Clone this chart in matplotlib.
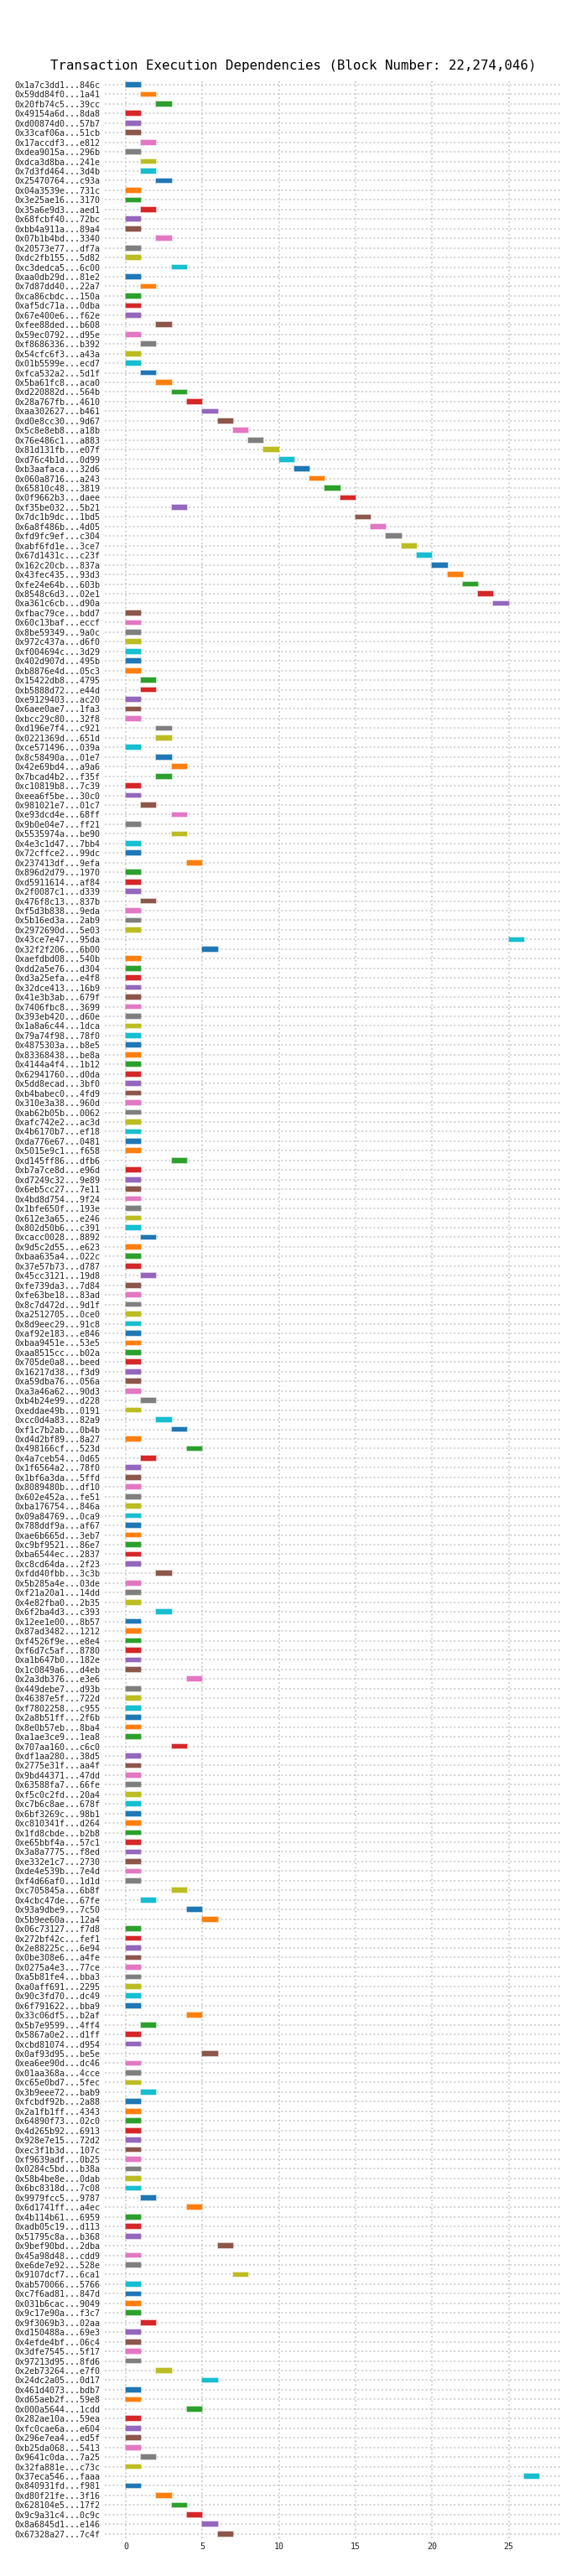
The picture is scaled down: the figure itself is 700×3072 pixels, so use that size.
import matplotlib
matplotlib.use("Agg")
import matplotlib.pyplot as plt

# transaction hash labels, top to bottom
tx_labels = [
    "0x1a7c3dd1...846c", "0x59dd84f0...1a41", "0x20fb74c5...39cc", "0x49154a6d...8da8",
    "0xd00874d0...57b7", "0x33caf06a...51cb", "0x17accdf3...e812", "0xdea9015a...296b",
    "0xdca3d8ba...241e", "0x7d3fd464...3d4b", "0x25470764...c93a", "0x04a3539e...731c",
    "0x3e25ae16...3170", "0x35a6e9d3...aed1", "0x68fcbf40...72bc", "0xbb4a911a...89a4",
    "0x07b1b4bd...3340", "0x20573e77...df7a", "0xdc2fb155...5d82", "0xc3dedca5...6c00",
    "0xaa0db29d...81e2", "0x7d87dd40...22a7", "0xca86cbdc...150a", "0xaf5dc71a...0dba",
    "0x67e400e6...f62e", "0xfee88ded...b608", "0x59ec0792...d95e", "0xf8686336...b392",
    "0x54cfc6f3...a43a", "0x01b5599e...ecd7", "0xfca532a2...5d1f", "0x5ba61fc8...aca0",
    "0xd220882d...564b", "0x28a767fb...4610", "0xaa302627...b461", "0xd0e8cc30...9d67",
    "0x5c8e8eb8...a18b", "0x76e486c1...a883", "0x81d131fb...e07f", "0xd76c4b1d...0d99",
    "0xb3aafaca...32d6", "0x060a8716...a243", "0x65810c48...3819", "0x0f9662b3...daee",
    "0xf35be032...5b21", "0x7dc1b9dc...1bd5", "0x6a8f486b...4d05", "0xfd9fc9ef...c304",
    "0xabf6fd1e...3ce7", "0x67d1431c...c23f", "0x162c20cb...837a", "0x43fec435...93d3",
    "0xfe24e64b...603b", "0x8548c6d3...02e1", "0xa361c6cb...d90a", "0xfbac79ce...bdd7",
    "0x60c13baf...eccf", "0x8be59349...9a0c", "0x972c437a...d6f0", "0xf004694c...3d29",
    "0x402d907d...495b", "0xb8876e4d...05c3", "0x15422db8...4795", "0xb5888d72...e44d",
    "0xe9129403...ac20", "0x6aee0ae7...1fa3", "0xbcc29c80...32f8", "0xd196e7f4...c921",
    "0x0221369d...651d", "0xce571496...039a", "0x8c58490a...01e7", "0x42e69bd4...a9a6",
    "0x7bcad4b2...f35f", "0xc10819b8...7c39", "0xeea6f5be...30c0", "0x981021e7...01c7",
    "0xe93dcd4e...68ff", "0x9b0e04e7...ff21", "0x5535974a...be90", "0x4e3c1d47...7bb4",
    "0x72cffce2...99dc", "0x237413df...9efa", "0x896d2d79...1970", "0xd5911614...af84",
    "0x2f0087c1...d339", "0x476f8c13...837b", "0xf5d3b838...9eda", "0x5b16ed3a...2ab9",
    "0x2972690d...5e03", "0x43ce7e47...95da", "0x32f2f206...6b00", "0xaefdbd08...540b",
    "0xdd2a5e76...d304", "0xd3a25efa...e4f8", "0x32dce413...16b9", "0x41e3b3ab...679f",
    "0x7406fbc8...3699", "0x393eb420...d60e", "0x1a8a6c44...1dca", "0x79a74f98...78f0",
    "0x4875303a...b8e5", "0x83368438...be8a", "0x4144a4f4...1b12", "0x62941760...d0da",
    "0x5dd8ecad...3bf0", "0xb4babec0...4fd9", "0x310e3a38...960d", "0xab62b05b...0062",
    "0xafc742e2...ac3d", "0x4b6170b7...ef18", "0xda776e67...0481", "0x5015e9c1...f658",
    "0xd145ff86...dfb6", "0xb7a7ce8d...e96d", "0xd7249c32...9e89", "0x6eb5cc27...7e11",
    "0x4bd8d754...9f24", "0x1bfe650f...193e", "0x612e3a65...e246", "0x802d50b6...c391",
    "0xcacc0028...8892", "0x9d5c2d55...e623", "0xbaa635a4...022c", "0x37e57b73...d787",
    "0x45cc3121...19d8", "0xfe739da3...7d84", "0xfe63be18...83ad", "0x8c7d472d...9d1f",
    "0xa2512705...0ce0", "0x8d9eec29...91c8", "0xaf92e183...e846", "0xbaa9451e...53e5",
    "0xaa8515cc...b02a", "0x705de0a8...beed", "0x16217d38...f3d9", "0xa59dba76...056a",
    "0xa3a46a62...90d3", "0xb4b24e99...d228", "0xeddae49b...0191", "0xcc0d4a83...82a9",
    "0xf1c7b2ab...0b4b", "0xd4d2bf89...8a27", "0x498166cf...523d", "0x4a7ceb54...0d65",
    "0x1f6564a2...78f0", "0x1bf6a3da...5ffd", "0x8089480b...df10", "0x602e452a...fe51",
    "0xba176754...846a", "0x09a84769...0ca9", "0x788ddf9a...af67", "0xae6b665d...3eb7",
    "0xc9bf9521...86e7", "0xba6544ec...2837", "0xc8cd64da...2f23", "0xfdd40fbb...3c3b",
    "0x5b285a4e...03de", "0xf21a20a1...14dd", "0x4e82fba0...2b35", "0x6f2ba4d3...c393",
    "0x12ee1e00...8b57", "0x87ad3482...1212", "0xf4526f9e...e8e4", "0xf6d7c5af...8780",
    "0xa1b647b0...182e", "0x1c0849a6...d4eb", "0x2a3db376...e3e6", "0x449debe7...d93b",
    "0x46387e5f...722d", "0xf7802258...c955", "0x2a8b51ff...2f6b", "0x8e0b57eb...8ba4",
    "0xa1ae3ce9...1ea8", "0x707aa160...c6c0", "0xdf1aa280...38d5", "0x2775e31f...aa4f",
    "0x9bd44371...47dd", "0x63588fa7...66fe", "0xf5c0c2fd...20a4", "0xc7b6c8ae...678f",
    "0x6bf3269c...98b1", "0xc810341f...d264", "0x1fd8cbde...b2b8", "0xe65bbf4a...57c1",
    "0x3a8a7775...f8ed", "0xe332e1c7...2730", "0xde4e539b...7e4d", "0xf4d66af0...1d1d",
    "0xc705845a...6b8f", "0x4cbc47de...67fe", "0x93a9dbe9...7c50", "0x5b9ee60a...12a4",
    "0x06c73127...f7d8", "0x272bf42c...fef1", "0x2e88225c...6e94", "0x0be308e6...a4fe",
    "0x0275a4e3...77ce", "0xa5b81fe4...bba3", "0xa0aff691...2295", "0x90c3fd70...dc49",
    "0x6f791622...bba9", "0x33c06df5...b2af", "0x5b7e9599...4ff4", "0x5867a0e2...d1ff",
    "0xcbd81074...d954", "0x0af93d95...be5e", "0xea6ee90d...dc46", "0x01aa368a...4cce",
    "0xc65e0bd7...5fec", "0x3b9eee72...bab9", "0xfcbdf92b...2a88", "0x2a1fb1ff...4343",
    "0x64890f73...02c0", "0x4d265b92...6913", "0x928e7e15...72d2", "0xec3f1b3d...107c",
    "0xf9639adf...0b25", "0x0284c5bd...b38a", "0x58b4be8e...0dab", "0x6bc8318d...7c08",
    "0x9979fcc5...9787", "0x6d1741ff...a4ec", "0x4b114b61...6959", "0xadb05c19...d113",
    "0x51795c8a...b368", "0x9bef90bd...2dba", "0x45a98d48...cdd9", "0xe6de7e92...528e",
    "0x9107dcf7...6ca1", "0xab570066...5766", "0xc7f6ad81...847d", "0x031b6cac...9049",
    "0x9c17e90a...f3c7", "0x9f3069b3...02aa", "0xd150488a...69e3", "0x4efde4bf...06c4",
    "0x3dfe7545...5f17", "0x97213d95...8fd6", "0x2eb73264...e7f0", "0x24dc2a05...0d17",
    "0x461d4073...bdb7", "0xd65aeb2f...59e8", "0x000a5644...1cdd", "0x282ae10a...59ea",
    "0xfc0cae6a...e604", "0x296e7ea4...ed5f", "0xb25da068...5413", "0x9641c0da...7a25",
    "0x32fa881e...c73c", "0x37eca546...faaa", "0x840931fd...f981", "0xd80f21fe...3f16",
    "0x628104e5...17f2", "0x9c9a31c4...0c9c", "0x8a6845d1...e146", "0x67328a27...7c4f",
]

# execution step at which each transaction starts
start_steps = [
    0, 1, 2, 0, 0, 0, 1, 0, 1, 1, 2, 0, 0, 1, 0, 0, 2, 0, 0, 3,
    0, 1, 0, 0, 0, 2, 0, 1, 0, 0, 1, 2, 3, 4, 5, 6, 7, 8, 9, 10,
    11, 12, 13, 14, 3, 15, 16, 17, 18, 19, 20, 21, 22, 23, 24, 0, 0, 0, 0, 0,
    0, 0, 1, 1, 0, 0, 0, 2, 2, 0, 2, 3, 2, 0, 0, 1, 3, 0, 3, 0,
    0, 4, 0, 0, 0, 1, 0, 0, 0, 25, 5, 0, 0, 0, 0, 0, 0, 0, 0, 0,
    0, 0, 0, 0, 0, 0, 0, 0, 0, 0, 0, 0, 3, 0, 0, 0, 0, 0, 0, 0,
    1, 0, 0, 0, 1, 0, 0, 0, 0, 0, 0, 0, 0, 0, 0, 0, 0, 1, 0, 2,
    3, 0, 4, 1, 0, 0, 0, 0, 0, 0, 0, 0, 0, 0, 0, 2, 0, 0, 0, 2,
    0, 0, 0, 0, 0, 0, 4, 0, 0, 0, 0, 0, 0, 3, 0, 0, 0, 0, 0, 0,
    0, 0, 0, 0, 0, 0, 0, 0, 3, 1, 4, 5, 0, 0, 0, 0, 0, 0, 0, 0,
    0, 4, 1, 0, 0, 5, 0, 0, 0, 1, 0, 0, 0, 0, 0, 0, 0, 0, 0, 0,
    1, 4, 0, 0, 0, 6, 0, 0, 7, 0, 0, 0, 0, 1, 0, 0, 0, 0, 2, 5,
    0, 0, 4, 0, 0, 0, 0, 1, 0, 26, 0, 2, 3, 4, 5, 6,
]

# every transaction occupies one step
durations = [1] * len(tx_labels)

block_number = 22274046

plt.rcParams["font.family"] = ["DejaVu Sans Mono"]

fig, ax = plt.subplots(figsize=(7, 30.72), dpi=100)

palette = plt.cm.tab10.colors
n = len(tx_labels)
rows = list(range(n))
bar_colors = [palette[i % 10] for i in rows]
edge_colors = [(*palette[i % 10], 0.35) for i in rows]

ax.barh(rows, durations, left=start_steps, height=0.5,
        color=bar_colors, edgecolor=edge_colors, linewidth=1.2)

ax.set_yticks(rows)
ax.set_yticklabels(tx_labels, fontsize=7.2, color="#222222")
ax.set_ylim(n - 0.5, -0.5)
ax.set_xlim(-1.35, 28.35)
ax.set_xticks([0, 5, 10, 15, 20, 25])
ax.tick_params(axis="x", labelsize=7.2, length=0, colors="#222222")
ax.tick_params(axis="y", length=0, pad=4)

ax.grid(True, linestyle=":", color="#cccccc", linewidth=1.3)
ax.set_axisbelow(True)
for side in ax.spines.values():
    side.set_visible(False)

fig.text(0.5, 0.9746,
         f"Transaction Execution Dependencies (Block Number: {block_number:,})",
         fontsize=11.3, ha="center", va="center")

fig.subplots_adjust(left=0.179, right=0.954, top=0.969, bottom=0.0145)
fig.savefig("out.png", dpi=100)
